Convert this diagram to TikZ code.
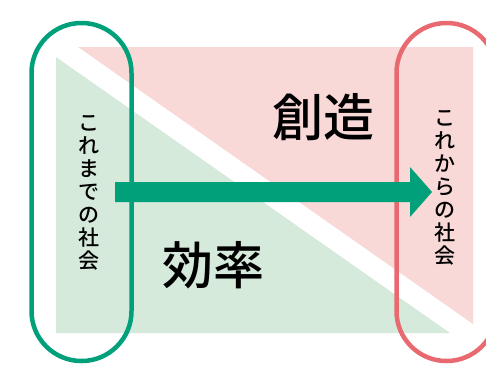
\documentclass[tikz,border=0pt]{standalone}
\usepackage{fontspec}
\newfontfamily\jpm{Noto Sans CJK JP Medium}
\definecolor{pinkfill}{RGB}{249,217,216}
\definecolor{greenfill}{RGB}{213,234,219}
\definecolor{teal}{RGB}{0,160,123}
\definecolor{redline}{RGB}{232,106,112}
\tikzset{
  pill/.style={draw, line width=4.5pt, rounded corners=49.9pt, minimum width=100pt, minimum height=338pt, inner sep=0pt},
  bigword/.style={font=\jpm\fontsize{51}{51}\selectfont, inner sep=0pt, text=black},
  vword/.style={font=\jpm\fontsize{21}{23}\selectfont, align=center, inner sep=0pt, text=black},
}
\begin{document}
\begin{tikzpicture}[x=1pt,y=-1pt]
\useasboundingbox (0,0) rectangle (486,364);
\clip (0,0) rectangle (486,364);
% background triangles
\fill[pinkfill] (78,47) -- (473,47) -- (473,324) -- cycle;
\fill[greenfill] (56,57) -- (56,333) -- (450,333) -- cycle;
% pills
\node[pill, draw=teal] (old) at (81.5,192) {};
\node[pill, draw=redline] (new) at (446.5,192) {};
% arrow
\coordinate (a) at (115,192);
\coordinate (b) at (432,192);
\fill[teal] (a) ++(0,-10) -- ++(295,0) -- ++(0,-15) -- (b) -- ++(-22,25) -- ++(0,-15) -- ++(-295,0) -- cycle;
% texts
\node[bigword] (create) at (323,117) {創造};
\node[bigword] (eff) at (213,265) {効率};
\node[vword] (oldtxt) at (89,192.5) {こ\\れ\\ま\\で\\の\\社\\会};
\node[vword] (newtxt) at (445,187.5) {こ\\れ\\か\\ら\\の\\社\\会};
\end{tikzpicture}
\end{document}
